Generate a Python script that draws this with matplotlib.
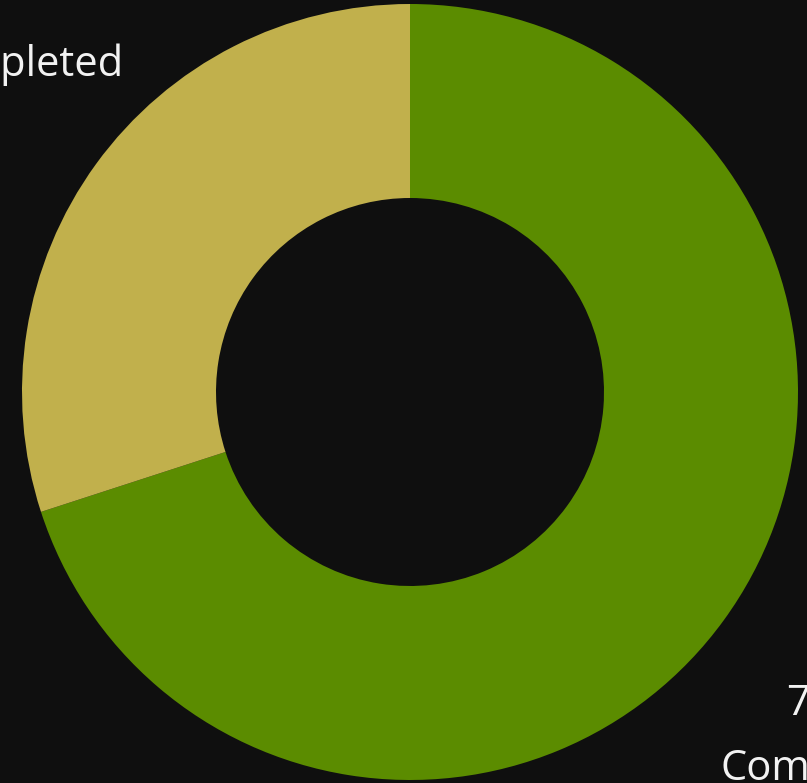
import matplotlib.pyplot as plt

# task completion split
labels = ["Completed", "Not Completed"]
shares = [70, 30]
colors = ["#5b8c00", "#c1b04c"]

bg = "#0f0f0f"
plt.rcParams['font.family'] = ['Open Sans', 'DejaVu Sans']

fig = plt.figure(figsize=(8.07, 7.83), dpi=100, facecolor=bg)
ax = fig.add_axes([0, 0, 1, 1])
ax.set_facecolor(bg)

# ring centred in pixel units
ax.pie(shares, colors=colors, startangle=90, counterclock=False,
       center=(410, 391), radius=388,
       wedgeprops=dict(width=194, linewidth=0))
ax.set_xlim(0, 807)
ax.set_ylim(0, 783)
ax.set_aspect("equal")
ax.axis("off")

# data labels outside the ring
ax.text(827, 3, "%d%%\n%s" % (shares[0], labels[0]), color="#f2f2f2",
        fontsize=30, ha="center", va="baseline", multialignment="center",
        linespacing=1.68)
ax.text(123, 707, "%d%%\n%s" % (shares[1], labels[1]), color="#f2f2f2",
        fontsize=30, ha="right", va="baseline", multialignment="center",
        linespacing=2.4)

fig.savefig("out.png", dpi=100, facecolor=bg)
